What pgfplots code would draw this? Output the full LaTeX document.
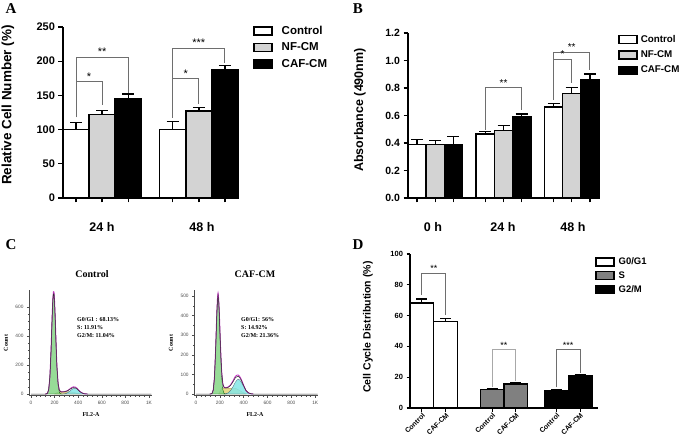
\documentclass[border=0pt]{standalone}
\usepackage{pgfplots}
\pgfplotsset{compat=1.18}
\usepackage{fontspec}
\setmainfont{Liberation Sans}
\newfontfamily\serif{Liberation Serif}
\newcommand\fs[1]{\fontsize{#1}{#1}\selectfont}
\definecolor{nfgray}{HTML}{D3D3D3}
\definecolor{sgray}{HTML}{808080}
\definecolor{brk}{HTML}{6E6E6E}
\definecolor{gfill}{HTML}{85D685}
\definecolor{cfill}{HTML}{84E6E6}
\definecolor{yfill}{HTML}{E6DA8A}
\definecolor{mag}{HTML}{C02CC0}
\pgfplotsset{
  prism/.style={scale only axis, clip=false, axis x line*=bottom, axis y line*=left,
    axis line style={line width=1.6pt}, tick align=outside,
    major tick length=4.5pt, every tick/.style={black, line width=1.4pt},
    xticklabels={}, ymin=0,
    /pgf/number format/assume math mode=true,
    yticklabel style={font=\bfseries\fs{11}},
    legend cell align=left},
  bar/.style={ybar, bar width=1, bar shift=0pt, draw=black, line width=1.6pt,
    error bars/y dir=plus, error bars/y explicit,
    error bars/error bar style={line width=1.4pt, black},
    error bars/error mark options={rotate=90, mark size=6pt, line width=1.4pt, black}},
  boxleg/.style={legend image code/.code={\draw[line width=1.5pt, draw=black, fill=#1] (0pt,-4pt) rectangle (18pt,4pt);}},
  brkt/.style={brk, line width=1pt, forget plot, no markers, sharp plot},
  hist/.style={scale only axis, clip=false, axis x line*=bottom, axis y line*=left,
    axis line style={line width=0.5pt, black!70}, tick align=outside,
    major tick length=2pt, minor tick length=1.2pt,
    every tick/.style={black!70, line width=0.4pt},
    ticklabel style={font=\fs{4.8}, black!70},
    /pgf/number format/assume math mode=true,
    xtick={0,200,400,600,800,1000}, xticklabels={0,200,400,600,800,1K},
    minor x tick num=4, xmin=-17, xmax=1028}
}
\begin{document}
\begin{tikzpicture}[x=1pt,y=1pt]
\useasboundingbox (0pt,0pt) rectangle (681pt,437pt);

% ---------------- Panel A ----------------
\begin{axis}[prism, at={(63pt,239pt)}, anchor=south west, width=175pt, height=171pt,
  xmin=-0.5, xmax=6.2, ymax=250, ytick={0,50,100,150,200,250},
  xtick={0,1,2,3.7,4.7,5.7},
  legend style={at={(1.086,1.018)}, anchor=north west, draw=none, fill=none,
    font=\bfseries\fs{11.5}, row sep=3pt, inner sep=0pt,
    /tikz/every odd column/.append style={column sep=7pt}}]
\addplot[bar, fill=white, boxleg=white] coordinates {(0,100) +- (0,10) (3.7,100) +- (0,12)};
\addplot[bar, fill=nfgray, boxleg=nfgray] coordinates {(1,122) +- (0,6) (4.7,127) +- (0,5)};
\addplot[bar, fill=black, boxleg=black] coordinates {(2,145) +- (0,7) (5.7,187) +- (0,7)};
\legend{Control, NF-CM, CAF-CM}
\addplot[brkt] coordinates {(0,118) (0,206) (2,206) (2,153)};
\addplot[brkt] coordinates {(0,170) (1,170) (1,136)};
\addplot[brkt] coordinates {(3.7,117) (3.7,219) (5.7,219) (5.7,197)};
\addplot[brkt] coordinates {(3.7,174) (4.7,174) (4.7,137)};
\node[anchor=south, font=\fs{11}, inner sep=1.5pt] at (axis cs:1,206) {**};
\node[anchor=south, font=\fs{11}, inner sep=1.5pt] at (axis cs:0.5,170) {*};
\node[anchor=south, font=\fs{11}, inner sep=1.5pt] at (axis cs:4.7,219) {***};
\node[anchor=south, font=\fs{11}, inner sep=1.5pt] at (axis cs:4.2,174) {*};
\end{axis}

% ---------------- Panel B ----------------
\begin{axis}[prism, at={(408pt,239pt)}, anchor=south west, width=191pt, height=165pt,
  xmin=-0.5, xmax=10, ymax=1.2, ytick={0,0.2,0.4,0.6,0.8,1.0,1.2},
  yticklabel style={font=\bfseries\fs{10.5}, /pgf/number format/.cd, fixed, fixed zerofill, precision=1},
  xtick={0,1,2,3.75,4.75,5.75,7.5,8.5,9.5},
  legend style={at={(1.10,1.0)}, anchor=north west, draw=none, fill=none,
    font=\bfseries\fs{9.8}, row sep=3pt, inner sep=0pt,
    /tikz/every odd column/.append style={column sep=1pt}}]
\addplot[bar, fill=white, boxleg=white] coordinates {(0,0.39) +- (0,0.037) (3.75,0.465) +- (0,0.017) (7.5,0.66) +- (0,0.028)};
\addplot[bar, fill=nfgray, boxleg=nfgray] coordinates {(1,0.39) +- (0,0.03) (4.75,0.49) +- (0,0.036) (8.5,0.761) +- (0,0.044)};
\addplot[bar, fill=black, boxleg=black] coordinates {(2,0.39) +- (0,0.056) (5.75,0.587) +- (0,0.024) (9.5,0.863) +- (0,0.039)};
\legend{Control, NF-CM, CAF-CM}
\addplot[brkt] coordinates {(3.75,0.495) (3.75,0.802) (5.75,0.802) (5.75,0.64)};
\addplot[brkt] coordinates {(7.5,0.713) (7.5,1.06) (9.5,1.06) (9.5,0.93)};
\addplot[brkt] coordinates {(7.5,1.009) (8.5,1.009) (8.5,0.834)};
\node[anchor=south, font=\fs{10}, inner sep=1.5pt] at (axis cs:4.75,0.802) {**};
\node[anchor=south, font=\fs{10}, inner sep=1.5pt] at (axis cs:8.5,1.06) {**};
\node[anchor=south, font=\fs{10}, inner sep=1.5pt] at (axis cs:8,1.009) {*};
\end{axis}

% ---------------- Panel C left ----------------
\begin{axis}[hist, at={(29pt,41.5pt)}, anchor=south west, width=123.3pt, height=105.4pt,
  ymin=-10, ymax=717, ytick={0,200,400,600}, minor y tick num=3]
\addplot[fill=yfill, draw=yfill!60!black, line width=0.3pt] coordinates {(200,0) (230,15) (340,15) (420,0)} \closedcycle;
\addplot[fill=gfill, fill opacity=0.85, draw=green!35!black, line width=0.3pt] coordinates {
(120,0)(130,0.9)(140,6.6)(150,33.6)(160,120)(170,307)(175,431)(180,553)(185,652)(190,705)(195,699)(200,635)(205,530)(210,405)(215,285)(220,183)(230,58)(240,13)(250,2)(260,0)} \closedcycle;
\addplot[fill=cfill, fill opacity=0.85, draw=cyan!40!black, line width=0.3pt] coordinates {
(255,0)(270,0.6)(285,2)(300,5.5)(315,11.6)(330,20.8)(345,31)(360,38.4)(375,39.6)(390,34)(405,24.2)(420,14.4)(435,7.2)(450,2.9)(465,1)(480,0)} \closedcycle;
\addplot[mag, line width=0.9pt, smooth, tension=0.3] coordinates {
(120,0)(130,1)(140,7)(150,34)(160,120)(170,307)(175,431)(180,553)(185,652)(190,705)(195,699)(200,635)(205,530)(210,408)(215,289)(220,189)(230,73)(240,28)(250,17)(260,15)(270,15.6)(285,17)(300,20.5)(315,26.6)(330,35.8)(345,45)(360,49.6)(375,48)(390,39.6)(405,26)(420,14.4)(435,7.2)(450,2.9)(465,1)(480,0)};
\addplot[black!80, line width=0.5pt] coordinates {
(0,0)(120,0)(130,1)(140,6)(150,32)(160,118)(170,300)(175,425)(180,548)(185,645)(190,690)(195,684)(200,628)(205,522)(210,400)(215,282)(220,185)(230,70)(240,27)(250,16)(260,14)(270,15)(285,16)(300,19)(315,25)(330,33)(345,40)(360,44)(375,43)(390,37)(405,24)(420,13)(435,6)(450,2)(465,1)(480,0)(1020,0)};
\end{axis}

% ---------------- Panel C right ----------------
\begin{axis}[hist, at={(194.2pt,41.4pt)}, anchor=south west, width=123.8pt, height=105.4pt,
  xmin=-15, xmax=1023, ymin=-8, ymax=530, ytick={0,100,200,300,400,500}, minor y tick num=1]
\addplot[fill=yfill, draw=yfill!60!black, line width=0.3pt] coordinates {(190,0) (215,30) (330,30) (420,0)} \closedcycle;
\addplot[fill=gfill, fill opacity=0.85, draw=green!35!black, line width=0.3pt] coordinates {
(115,0)(125,0.5)(135,3.9)(145,22.4)(155,88)(165,234)(170,329)(175,420)(180,486)(185,512)(190,486)(195,420)(200,329)(205,234)(215,88)(225,22.4)(235,3.9)(245,0.5)(255,0)} \closedcycle;
\addplot[fill=cfill, fill opacity=0.85, draw=cyan!40!black, line width=0.3pt] coordinates {
(240,0)(250,1.6)(270,6.2)(290,17.4)(310,37.2)(330,60.4)(345,72.4)(355,75)(365,72.4)(380,60.4)(400,37.2)(420,17.4)(440,6.2)(460,1.6)(480,0)} \closedcycle;
\addplot[mag, line width=0.9pt, smooth, tension=0.3] coordinates {
(115,0)(125,0.5)(135,4)(145,22)(155,88)(165,234)(170,329)(175,420)(180,486)(185,515)(190,486)(195,426)(200,341)(205,252)(215,118)(225,53)(235,35)(250,32)(270,36)(290,47)(310,67)(330,90)(345,97)(355,97)(365,91)(380,74)(400,44)(420,17)(440,6)(460,1.6)(480,0)};
\addplot[black!80, line width=0.5pt] coordinates {
(0,0)(115,0)(125,0.5)(135,4)(145,21)(155,86)(165,230)(170,323)(175,414)(180,478)(185,502)(190,478)(195,416)(200,332)(205,244)(215,117)(225,52)(235,34)(250,31)(270,34)(290,44)(310,62)(330,83)(345,89)(355,90)(365,85)(380,70)(400,42)(420,17)(440,6)(460,1.6)(480,0)(1020,0)};
\end{axis}

% ---------------- Panel D ----------------
\begin{axis}[prism, at={(410pt,29pt)}, anchor=south west, width=188pt, height=154pt,
  axis line style={line width=1.3pt}, every tick/.style={black, line width=1.1pt},
  major tick length=3.5pt,
  xmin=-0.5, xmax=7.4, ymax=100, ytick={0,20,40,60,80,100},
  yticklabel style={font=\bfseries\fs{7.5}},
  xtick={0,1,2.95,3.95,5.65,6.65},
  xticklabels={Control,CAF-CM,Control,CAF-CM,Control,CAF-CM},
  xticklabel style={font=\bfseries\fs{7}, rotate=45, anchor=north east, inner sep=0.5pt},
  legend style={at={(0.984,0.99)}, anchor=north west, draw=none, fill=none,
    font=\bfseries\fs{9.5}, row sep=1.5pt, inner sep=0pt,
    /tikz/every odd column/.append style={column sep=2pt}}]
\addplot[bar, line width=1.3pt, fill=white, boxleg=white,
  error bars/error bar style={line width=1.1pt}, error bars/error mark options={rotate=90, mark size=5.5pt, line width=1.1pt}]
  coordinates {(0,68.1) +- (0,2.7) (1,56.0) +- (0,2.2)};
\addplot[bar, line width=1.3pt, fill=sgray, boxleg=sgray,
  error bars/error bar style={line width=1.1pt}, error bars/error mark options={rotate=90, mark size=5.5pt, line width=1.1pt}]
  coordinates {(2.95,11.9) +- (0,0.9) (3.95,15.6) +- (0,1.0)};
\addplot[bar, line width=1.3pt, fill=black, boxleg=black,
  error bars/error bar style={line width=1.1pt}, error bars/error mark options={rotate=90, mark size=5.5pt, line width=1.1pt}]
  coordinates {(5.65,11.2) +- (0,0.8) (6.65,20.8) +- (0,0.6)};
\legend{G0/G1, S, G2/M}
\addplot[brkt] coordinates {(0,73.4) (0,87.5) (1,87.5) (1,60.4)};
\addplot[brkt, brk!60] coordinates {(2.95,13.8) (2.95,37.7) (3.95,37.7) (3.95,17.7)};
\addplot[brkt] coordinates {(5.65,13.4) (5.65,37.7) (6.65,37.7) (6.65,22.5)};
\node[anchor=south, font=\fs{9}, inner sep=1.5pt] at (axis cs:0.5,87.5) {**};
\node[anchor=south, font=\fs{9}, inner sep=1.5pt] at (axis cs:3.45,37.7) {**};
\node[anchor=south, font=\fs{9}, inner sep=1.5pt] at (axis cs:6.15,37.7) {***};
\end{axis}

% ---------------- text ----------------
\node[font=\serif\bfseries\fs{15}] at (11pt,428pt) {A};
\node[font=\serif\bfseries\fs{15}] at (358pt,428pt) {B};
\node[font=\serif\bfseries\fs{15}] at (11pt,192pt) {C};
\node[font=\serif\bfseries\fs{15}] at (358pt,192pt) {D};
\node[rotate=90, font=\bfseries\fs{13.5}] at (8pt,332pt) {Relative Cell Number (\%)};
\node[rotate=90, font=\bfseries\fs{12.5}] at (360pt,327pt) {Absorbance (490nm)};
\node[rotate=90, font=\bfseries\fs{10.5}] at (368pt,110pt) {Cell Cycle Distribution (\%)};
\node[font=\bfseries\fs{12.5}] at (102pt,210pt) {24 h};
\node[font=\bfseries\fs{12.5}] at (202pt,210pt) {48 h};
\node[font=\bfseries\fs{12.5}] at (433pt,210pt) {0 h};
\node[font=\bfseries\fs{12.5}] at (503pt,210pt) {24 h};
\node[font=\bfseries\fs{12.5}] at (573pt,210pt) {48 h};
\node[font=\serif\bfseries\fs{10}] at (92pt,163pt) {Control};
\node[font=\serif\bfseries\fs{10}] at (255pt,163pt) {CAF-CM};
\node[rotate=90, font=\serif\bfseries\fs{6}] at (6pt,94pt) {Count};
\node[rotate=90, font=\serif\bfseries\fs{6}] at (171pt,94pt) {Count};
\node[font=\serif\bfseries\fs{6}] at (91pt,22pt) {FL2-A};
\node[font=\serif\bfseries\fs{6}] at (255pt,22pt) {FL2-A};
\node[anchor=west, font=\serif\bfseries\fs{6}, inner sep=0pt] at (77pt,117pt) {G0/G1 : 68.13\%};
\node[anchor=west, font=\serif\bfseries\fs{6}, inner sep=0pt] at (77pt,109pt) {S: 11.91\%};
\node[anchor=west, font=\serif\bfseries\fs{6}, inner sep=0pt] at (77pt,101pt) {G2/M: 11.04\%};
\node[anchor=west, font=\serif\bfseries\fs{6}, inner sep=0pt] at (241pt,117pt) {G0/G1: 56\%};
\node[anchor=west, font=\serif\bfseries\fs{6}, inner sep=0pt] at (241pt,109pt) {S: 14.92\%};
\node[anchor=west, font=\serif\bfseries\fs{6}, inner sep=0pt] at (241pt,101pt) {G2/M: 21.36\%};
\end{tikzpicture}
\end{document}
